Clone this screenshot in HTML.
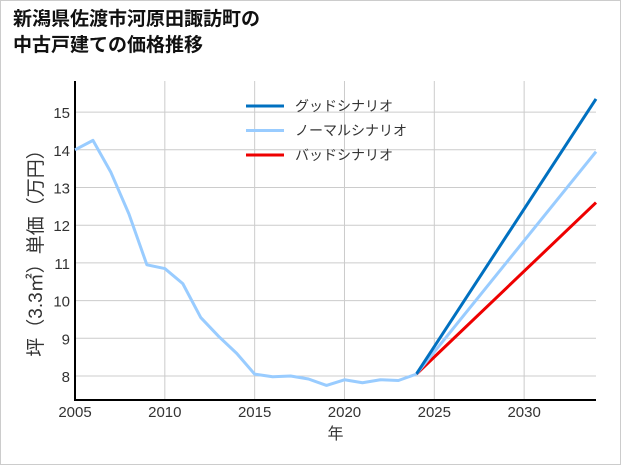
<!DOCTYPE html>
<html><head><meta charset="utf-8"><style>
body{margin:0;background:#fff;}
#wrap{width:619px;height:463px;border:1px solid #ccc;position:relative;overflow:hidden;background:#fff;}
h1{position:absolute;left:12px;top:6px;margin:0;font:bold 19px/26px "Liberation Sans","Noto Sans CJK JP",sans-serif;color:#111;}
svg text{font-family:"Liberation Sans","Noto Sans CJK JP",sans-serif;}
</style></head><body>
<div id="wrap">
<h1>新潟県佐渡市河原田諏訪町の<br>中古戸建ての価格推移</h1>
<svg id="c" width="619" height="463" style="position:absolute;left:0;top:0"></svg>
</div>
<script>
const years=[2005,2006,2007,2008,2009,2010,2011,2012,2013,2014,2015,2016,2017,2018,2019,2020,2021,2022,2023,2024];
const prices=[14.0,14.25,13.4,12.3,10.95,10.85,10.45,9.55,9.05,8.6,8.05,7.98,8.0,7.92,7.75,7.9,7.82,7.9,7.88,8.05];
const scenYears=[2024,2034];
const good=[8.05,15.35];
const normal=[8.05,13.95];
const bad=[8.05,12.6];
const xTicks=[2005,2010,2015,2020,2025,2030];
const yTicks=[8,9,10,11,12,13,14,15];
const NS="http://www.w3.org/2000/svg";
const svg=document.getElementById('c');
const L=74,R=595,T=80,B=399;
const x=v=>L+(v-2005)/(2034-2005)*(R-L);
const y=v=>375-(v-8)*37.7;
function mk(t,a){const e=document.createElementNS(NS,t);for(const k in a)e.setAttribute(k,a[k]);svg.appendChild(e);return e;}
yTicks.forEach(v=>{
 const g=mk('line',{x1:L,x2:R,y1:y(v),y2:y(v),stroke:'#ccc','stroke-width':1});
 
 
 const t=mk('text',{x:L-5,y:y(v)+6,'text-anchor':'end','font-size':15,fill:'#333'});t.textContent=v;
 
 
});
xTicks.forEach(v=>{
 const g=mk('line',{x1:x(v),x2:x(v),y1:T,y2:B,stroke:'#ccc','stroke-width':1});
 
 
 const t=mk('text',{x:x(v),y:B+17,'text-anchor':'middle','font-size':15,fill:'#333'});t.textContent=v;
 
 
});
const ax=mk('path',{d:`M${L} ${T} V${B} H${R}`,fill:'none',stroke:'#000','stroke-width':2});


const xl=mk('text',{x:(L+R)/2,y:438,'text-anchor':'middle','font-size':16,fill:'#333'});xl.textContent='年';


const yl=mk('text',{x:0,y:0,'text-anchor':'middle','font-size':19,fill:'#333',transform:`translate(41,${(T+B)/2+8}) rotate(-90)`});yl.textContent='坪（3.3㎡）単価（万円）';


function line(xs,ys,col,name){
 const p=mk('polyline',{points:xs.map((v,i)=>x(v)+','+y(ys[i])).join(' '),fill:'none',stroke:col,'stroke-width':3,'stroke-linejoin':'round'});
 
 
}
line(scenYears,bad,'#ee0000','line-bad');
line(scenYears,normal,'#99ccff','line-normal');
line(scenYears,good,'#0070c0','line-good');
line(years,prices,'#99ccff','line-history');
[['グッドシナリオ','#0070c0'],['ノーマルシナリオ','#99ccff'],['バッドシナリオ','#ee0000']].forEach((d,i)=>{
 const yy=105+i*24.5;
 const l=mk('line',{x1:245,x2:283,y1:yy,y2:yy,stroke:d[1],'stroke-width':3});
 
 
 const t=mk('text',{x:294,y:yy+5,'font-size':14,fill:'#333'});t.textContent=d[0];
 
 
});
</script>
</body></html>
